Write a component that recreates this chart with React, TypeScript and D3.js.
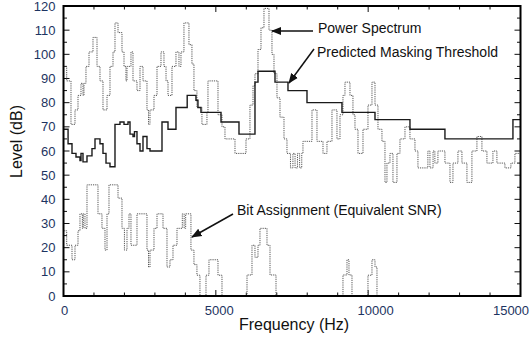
import React from 'react';
import * as d3 from 'd3';

// breakpoints (Hz) and levels (dB), each level holds until the next breakpoint
const spectrumFreq = [0, 105, 246, 377, 476, 574, 640, 672, 738, 837, 968, 1100, 1198, 1296, 1428, 1526, 1625, 1690, 1789, 1920, 1986, 2050, 2084, 2215, 2281, 2412, 2511, 2609, 2740, 2790, 2839, 2970, 3069, 3200, 3298, 3365, 3430, 3561, 3692, 3790, 3856, 3954, 4118, 4216, 4282, 4380, 4544, 4709, 4742, 5071, 5202, 5300, 5629, 5990, 6120, 6220, 6285, 6384, 6482, 6580, 6745, 6843, 6909, 7007, 7106, 7237, 7335, 7450, 7530, 7600, 7680, 7750, 7820, 7860, 8156, 8320, 8517, 8648, 8812, 8976, 9075, 9173, 9239, 9403, 9501, 9567, 9666, 9830, 9994, 10125, 10224, 10322, 10453, 10552, 10617, 10716, 10814, 10945, 11044, 11208, 11372, 11536, 11634, 11960, 12028, 12130, 12190, 12290, 12520, 12685, 12783, 12947, 13078, 13242, 13406, 13570, 13734, 13898, 14095, 14226, 14489, 14686, 14817, 15000];
const spectrumLevel = [95, 89, 71, 77, 83, 88, 83, 88, 95, 101, 107, 95, 89, 77, 83, 95, 101, 113, 109, 101, 95, 89, 95, 101, 89, 85, 95, 89, 77, 71, 77, 83, 95, 101, 95, 89, 83, 95, 101, 95, 101, 113, 104, 96, 85, 78, 71, 76, 89, 75, 70, 65, 59, 65, 79, 87, 92, 102, 111, 119, 110, 100, 92, 82, 74, 65, 59, 53, 59, 53, 59, 53, 59, 64, 77, 64, 59, 64, 77, 65, 75, 83, 88.5, 83, 75, 69, 59, 69, 79, 88.5, 79, 69, 64, 47, 55, 59, 47, 59, 65, 70, 65, 60, 53, 60, 53, 60, 55, 60, 55, 47, 55, 60, 55, 47, 60, 66, 60, 55, 60, 55, 53, 55, 59, 62, 62];

const maskFreq = [0, 150, 279, 410, 541, 574, 640, 771, 935, 1034, 1198, 1296, 1395, 1526, 1690, 1854, 1986, 2117, 2183, 2281, 2330, 2412, 2511, 2609, 2740, 2839, 3233, 3430, 3692, 4060, 4348, 4413, 4512, 5170, 5760, 6285, 6384, 6942, 7368, 7992, 9140, 10224, 11372, 12520, 14752, 15000];
const maskLevel = [69, 63, 59, 57.5, 56, 59, 55.5, 58, 61, 65, 63, 59, 55, 53.5, 71, 72, 71, 72, 67, 66, 68, 63, 60, 66, 61, 60, 72, 69, 78, 83, 81, 78, 76, 72, 67, 88.5, 93, 88.5, 85, 80, 76, 73, 69, 65, 73, 73];

const bitFreq = [0, 105, 279, 377, 476, 541, 620, 650, 705, 771, 1132, 1263, 1362, 1428, 1493, 1789, 1920, 2000, 2084, 2150, 2215, 2412, 2740, 2790, 2839, 2970, 3069, 3266, 3397, 3495, 3594, 3725, 3900, 3960, 4010, 4183, 4282, 4380, 4479, 4677, 4775, 5071, 5202, 6023, 6187, 6285, 6384, 6449, 6679, 6778, 6975, 9173, 9305, 9370, 9469, 9994, 10125, 10224, 10289, 15000];
const bitLevel = [27, 21, 15, 21, 27, 34, 28, 34, 28, 46, 34, 28, 19, 34, 46, 40.5, 28, 19, 28, 34, 21, 34, 19, 12, 19, 28, 34, 28, 12, 15, 21, 28, 34, 28, 34, 19, 13, 8.6, 0, 8.6, 15, 8.6, 0, 8.7, 21, 16, 21, 28, 21, 8.7, 0, 8.7, 15, 8.7, 0, 8.6, 15, 12, 0, 0];

const yTicks = [0, 10, 20, 30, 40, 50, 60, 70, 80, 90, 100, 110, 120];
const xTicks = [0, 5000, 10000, 15000];

const font = '"Liberation Sans", Arial, sans-serif';

export default function App() {
  const width = 530;
  const height = 337;
  const left = 63.5, right = 520.5, top = 6, bottom = 296;

  const x = d3.scaleLinear().domain([0, 15000]).range([left, right]);
  const y = d3.scaleLinear().domain([0, 120]).range([bottom, top]);

  const step = d3.line<[number, number]>()
    .x(d => x(d[0]))
    .y(d => y(d[1]))
    .curve(d3.curveStepAfter);

  const pairs = (f: number[], l: number[]) => f.map((v, i) => [v, l[i]] as [number, number]);

  const minorY = d3.range(0, 121, 5);
  const minorX = d3.range(0, 15001, 1000);
  const xDx = [1, 3.5, 7.5, -9.5];

  return (
    <div style={{ position: 'fixed', left: 0, top: 0 }}>
      <svg width={width} height={height} style={{ display: 'block', background: '#fff' }}>
        <defs>
          <marker id="arr" viewBox="0 0 10 10" refX="9" refY="5" markerWidth="7" markerHeight="7" orient="auto">
            <path d="M0,1 L10,5 L0,9 z" fill="#111" />
          </marker>
        </defs>

        {/* ticks, all pointing inward */}
        {minorY.map(v => {
          const len = v % 10 === 0 ? 6 : 3.5;
          return (
            <g key={'y' + v} stroke="#111" strokeWidth={1}>
              <line x1={left} x2={left + len} y1={y(v)} y2={y(v)} />
              <line x1={right} x2={right - len} y1={y(v)} y2={y(v)} />
            </g>
          );
        })}
        {minorX.map(v => {
          const len = v % 5000 === 0 ? 6 : 3.5;
          return (
            <g key={'x' + v} stroke="#111" strokeWidth={1}>
              <line x1={x(v)} x2={x(v)} y1={bottom} y2={bottom - len} />
              <line x1={x(v)} x2={x(v)} y1={top} y2={top + len} />
            </g>
          );
        })}

        {/* series */}
        <path d={step(pairs(spectrumFreq, spectrumLevel)) || ''} fill="none" stroke="#555" strokeWidth={1} strokeDasharray="1.2 1" />
        <path d={step(pairs(bitFreq, bitLevel)) || ''} fill="none" stroke="#555" strokeWidth={1} strokeDasharray="1.2 1" />
        <path d={step(pairs(maskFreq, maskLevel)) || ''} fill="none" stroke="#1a1a1a" strokeWidth={1.4} />

        {/* frame */}
        <rect x={left} y={top} width={right - left} height={bottom - top} fill="none" stroke="#000" strokeWidth={2} />

        {/* tick labels */}
        {yTicks.map(v => (
          <text key={'yl' + v} x={55.5} y={y(v) + 4.5} textAnchor="end" fontFamily={font} fontSize={13} fill="#1d3461">{v}</text>
        ))}
        {xTicks.map((v, i) => (
          <text key={'xl' + v} x={x(v) + xDx[i]} y={315} textAnchor="middle" fontFamily={font} fontSize={13} fill="#1d3461">{v}</text>
        ))}

        {/* axis titles */}
        <text x={294} y={330} textAnchor="middle" fontFamily={font} fontSize={16} fill="#111">Frequency (Hz)</text>
        <text transform="translate(21.5,141.5) rotate(-90)" textAnchor="middle" fontFamily={font} fontSize={16} fill="#111">Level (dB)</text>

        {/* annotations */}
        <line x1={313} y1={31} x2={272} y2={31} stroke="#111" strokeWidth={1.5} markerEnd="url(#arr)" />
        <text x={318} y={33} fontFamily={font} fontSize={14} fill="#111">Power Spectrum</text>
        <line x1={314} y1={49} x2={289} y2={83} stroke="#111" strokeWidth={1.5} markerEnd="url(#arr)" />
        <text x={317} y={57} fontFamily={font} fontSize={14} fill="#111">Predicted Masking Threshold</text>
        <line x1={233} y1={214} x2={192} y2={237} stroke="#111" strokeWidth={1.5} markerEnd="url(#arr)" />
        <text x={237} y={215} fontFamily={font} fontSize={14} fill="#111">Bit Assignment (Equivalent SNR)</text>
      </svg>
    </div>
  );
}
